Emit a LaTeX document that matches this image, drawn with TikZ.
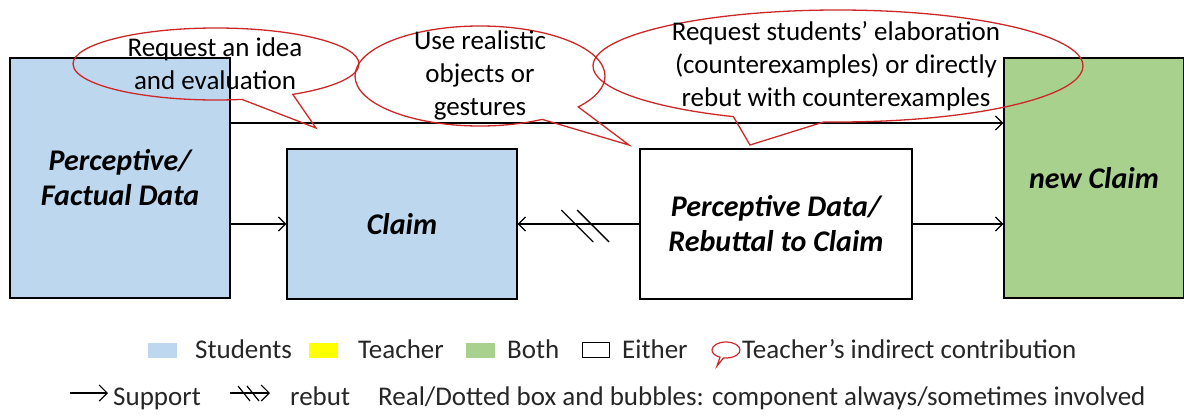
\documentclass[tikz,border=0pt]{standalone}
\usepackage{fontspec}
\setmainfont{Carlito}
\usetikzlibrary{calc,shapes.callouts,arrows.meta}
\definecolor{stublue}{RGB}{189,215,238}
\definecolor{bothgreen}{RGB}{169,209,142}
\definecolor{teayellow}{RGB}{255,255,0}
\definecolor{bubred}{RGB}{205,40,40}

\begin{document}
\begin{tikzpicture}[x=1pt,y=-1pt,
		box/.style={draw,line width=1.3pt,inner sep=0pt,align=center,font=\fontsize{30}{35}\selectfont\bfseries\itshape},
		bubble/.style={ellipse callout,draw=bubred,line width=1.3pt,inner sep=0pt,callout pointer arc=22},
		btext/.style={align=center,inner sep=0pt,font=\fontsize{27}{33}\selectfont},
		arr/.style={-{Straight Barb[length=7pt,width=14pt]},line width=1.3pt},
		legsq/.style={minimum width=29pt,minimum height=15pt,inner sep=0pt},
		legtext/.style={anchor=base west,inner sep=0pt,text=black!85,font=\fontsize{27}{30}\selectfont}]
				\useasboundingbox (0,0) rectangle (1184,418);
				% boxes
				\node[box,fill=stublue,minimum width=220pt,minimum height=240pt] (fact) at (120,178) {Perceptive/\\Factual Data};
				\node[box,fill=stublue,minimum width=230pt,minimum height=150pt] (claim) at (402,224) {Claim};
				\node[box,fill=white,minimum width=272pt,minimum height=150pt] (rebut) at (776,224) {Perceptive Data/\\Rebuttal to Claim};
				\node[box,fill=bothgreen,minimum width=180pt,minimum height=240pt] (newc) at (1094,178) {new Claim};
				% connectors
				\draw[arr] ([yshift=55pt]fact.east) -- ([yshift=55pt]newc.west);
				\draw[arr] (fact.east |- claim.west) -- (claim.west);
				\draw[arr] (rebut.west) -- (claim.east);
				\draw[arr] (rebut.east) -- (newc.west |- rebut.east);
				\path (claim.east) -- (rebut.west) coordinate[pos=0.49] (sl1) coordinate[pos=0.62] (sl2);
				\foreach \s in {sl1,sl2}
					\draw[line width=1.3pt] ([shift={(-16,-14)}]\s) -- ([shift={(16,18)}]\s);
				% bubbles
				\node[bubble,minimum width=286pt,minimum height=72pt,callout absolute pointer={(316,128)}] (b1) at (216,64) {};
				\node[bubble,minimum width=250pt,minimum height=100pt,callout absolute pointer={(629,145)}] (b2) at (480,76) {};
				\node[bubble,minimum width=490pt,minimum height=112pt,callout absolute pointer={(750,145)}] (b3) at (838,66) {};
				\node[btext] (t1) at (215,64) {Request an idea\\and evaluation};
				\node[btext] (t2) at (480,75) {Use realistic\\objects or\\gestures};
				\node[btext] (t3) at (836,66) {Request students’ elaboration\\(counterexamples) or directly\\rebut with counterexamples};
				% legend
				\node[legsq,fill=stublue] (kstu) at (162,350) {};
				\node[legtext] (lstu) at (195,358) {Students};
				\node[legsq,fill=teayellow] (ktea) at (323,350) {};
				\node[legtext] (ltea) at (358,358) {Teacher};
				\node[legsq,fill=bothgreen] (kboth) at (480,350) {};
				\node[legtext] (lboth) at (507,358) {Both};
				\node[legsq,draw,line width=1pt,minimum width=27pt] (keit) at (596,350) {};
				\node[legtext] (leit) at (622,358) {Either};
				\node[ellipse callout,draw=bubred,line width=1.2pt,inner sep=0pt,minimum width=28pt,minimum height=16pt,callout absolute pointer={(717,366)}] (kbub) at (726,350) {};
				\node[legtext] (lbub) at (742,358) {Teacher’s indirect contribution};
				\coordinate (ks0) at (70,393);
				\coordinate (ks1) at (108,393);
				\draw[-{Straight Barb[length=8pt,width=16pt]},line width=1.2pt] (ks0) -- (ks1);
				\node[legtext] (lsup) at (113,405) {Support};
				\coordinate (kr0) at (230,393);
				\coordinate (kr1) at (270,393);
				\draw[-{Straight Barb[length=8pt,width=16pt]},line width=1.2pt] (kr0) -- (kr1);
				\foreach \dx in {244,253}
					\draw[line width=1.2pt] (\dx-6,386) -- (\dx+6,401);
				\node[legtext] (lreb) at (290,405) {rebut};
				\node[legtext] (lreal) at (378,405) {Real/Dotted box and bubbles: component always/sometimes involved};
			\end{tikzpicture}
\end{document}
